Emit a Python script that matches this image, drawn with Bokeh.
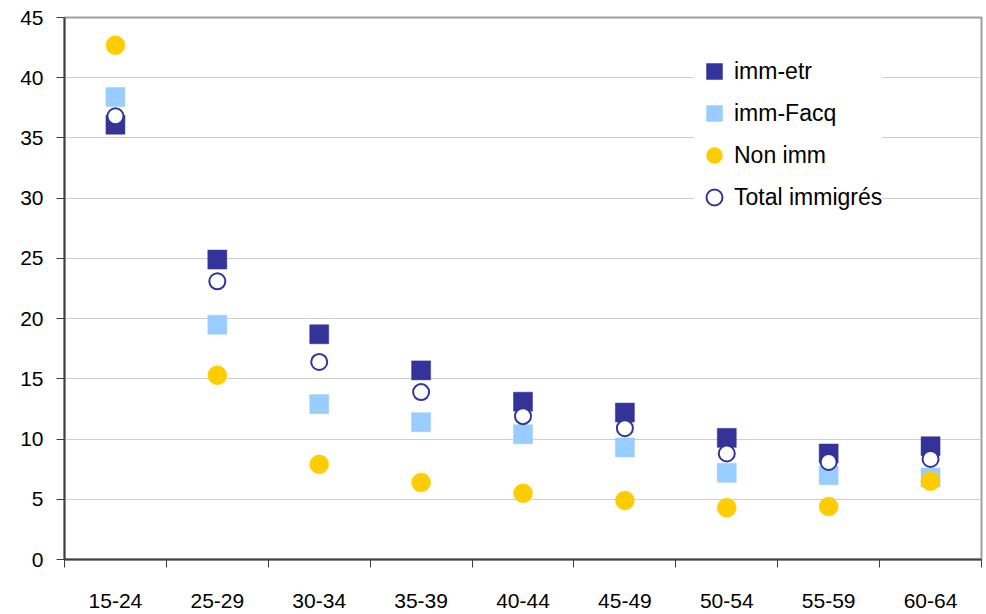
from bokeh.plotting import figure
from bokeh.models import Range1d, FixedTicker, Legend, LegendItem, ColumnDataSource
from bokeh.embed import file_html
from bokeh.resources import INLINE

categories = ["15-24", "25-29", "30-34", "35-39", "40-44", "45-49", "50-54", "55-59", "60-64"]
imm_etr = [36.1, 24.9, 18.7, 15.7, 13.1, 12.2, 10.1, 8.8, 9.4]
imm_facq = [38.4, 19.5, 12.9, 11.4, 10.4, 9.3, 7.2, 7.0, 6.8]
non_imm = [42.7, 15.3, 7.9, 6.4, 5.5, 4.9, 4.3, 4.4, 6.5]
total_immigres = [36.8, 23.1, 16.4, 13.9, 11.9, 10.9, 8.8, 8.1, 8.35]
y_ticks = [0, 5, 10, 15, 20, 25, 30, 35, 40, 45]

pos = [i + 0.5 for i in range(len(categories))]
src = ColumnDataSource(dict(x=pos, etr=imm_etr, facq=imm_facq, non=non_imm, tot=total_immigres))

p = figure(width=986, height=614, output_backend="svg", toolbar_location=None,
           x_range=Range1d(0, len(categories)), y_range=Range1d(0, 45),
           min_border_left=64, min_border_right=5, min_border_top=17, min_border_bottom=55)
p.background_fill_color = "white"
p.border_fill_color = "white"
p.outline_line_color = "#A0A0A0"
p.outline_line_width = 2

FONT = "Liberation Sans"

r1 = p.scatter("x", "etr", source=src, marker="square", size=19, fill_color="#333399", line_color="#333399", line_width=0.5)
r2 = p.scatter("x", "facq", source=src, marker="square", size=19, fill_color="#99CCFF", line_color="#99CCFF", line_width=0.5)
r3 = p.scatter("x", "non", source=src, marker="circle", size=19, fill_color="#FFCC00", line_color="#FFCC00", line_width=0.5)
r4 = p.scatter("x", "tot", source=src, marker="circle", size=16, fill_color="white", line_color="#333399", line_width=2)

# x axis
xa = p.xaxis[0]
xa.ticker = FixedTicker(ticks=pos, minor_ticks=list(range(len(categories) + 1)))
xa.major_label_overrides = {pp: c for pp, c in zip(pos, categories)}
xa.major_tick_line_color = None
xa.major_tick_out = 0
xa.major_tick_in = 0
xa.minor_tick_out = 8
xa.minor_tick_in = 0
xa.minor_tick_line_color = "#404040"
xa.minor_tick_line_width = 1
xa.axis_line_color = "#404040"
xa.axis_line_width = 2
xa.major_label_text_font = FONT
xa.major_label_text_font_size = "21px"
xa.major_label_text_color = "black"
xa.major_label_standoff = 26

ya = p.yaxis[0]
ya.ticker = FixedTicker(ticks=y_ticks, minor_ticks=[])
ya.major_tick_out = 8
ya.major_tick_in = 0
ya.major_tick_line_color = "#404040"
ya.minor_tick_line_color = None
ya.axis_line_color = "#404040"
ya.axis_line_width = 2
ya.major_label_text_font = FONT
ya.major_label_text_font_size = "21px"
ya.major_label_text_color = "black"
ya.major_label_standoff = 13

p.xgrid.grid_line_color = None
p.ygrid.grid_line_color = "#CFCFCF"
p.ygrid.grid_line_width = 1

legend = Legend(items=[
    LegendItem(label="imm-etr", renderers=[r1]),
    LegendItem(label="imm-Facq", renderers=[r2]),
    LegendItem(label="Non imm", renderers=[r3]),
    LegendItem(label="Total immigrés", renderers=[r4]),
], location=(630, 342))
legend.label_text_font = FONT
legend.label_text_font_size = "23px"
legend.label_text_color = "black"
legend.label_height = 30
legend.glyph_height = 40
legend.glyph_width = 40
legend.spacing = 2
legend.padding = 5
legend.label_standoff = 0
legend.border_line_color = None
legend.background_fill_color = "white"
legend.background_fill_alpha = 1.0
legend.margin = 0
p.add_layout(legend, "center")

open("out.html", "w").write(file_html(p, INLINE))
